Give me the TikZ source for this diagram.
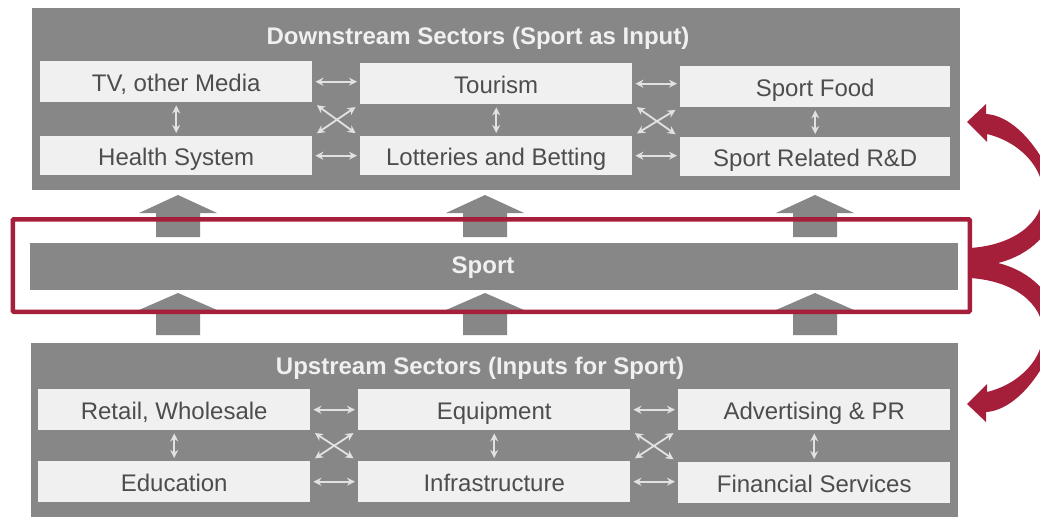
\documentclass[tikz,border=0pt]{standalone}
\usepackage{fontspec}
\setmainfont{Liberation Sans}
\usetikzlibrary{arrows.meta}
\definecolor{panel}{HTML}{878787}
\definecolor{boxc}{HTML}{F0F0F0}
\definecolor{txt}{HTML}{4D4D4D}
\definecolor{crim}{HTML}{A51E3A}
\definecolor{darkred}{HTML}{7A1A2D}
\definecolor{sm}{HTML}{E2E2E2}
\definecolor{ttl}{HTML}{F0F0F0}
\begin{document}
\begin{tikzpicture}[x=1pt,y=-1pt,
  panelbox/.style={fill=panel, inner sep=0pt, anchor=north west},
  sector/.style={fill=boxc, text=txt, font=\fontsize{24}{28}\selectfont, inner sep=0pt, anchor=north west, minimum width=272, minimum height=41, text height=20pt, text depth=0pt},
  ttlstyle/.style={text=ttl, font=\bfseries\fontsize{24}{28}\selectfont, inner sep=0pt, anchor=base},
  dbl/.style={draw=sm, line width=1.8pt, shorten <=3pt, shorten >=3pt, {Stealth[length=8pt,width=8pt]}-{Stealth[length=8pt,width=8pt]}},
  blockarrow/.style={fill=panel}
]
\useasboundingbox (0,0) rectangle (1040,516);
\fill[white] (0,0) rectangle (1040,516);

% downstream panel
\node[panelbox, minimum width=928, minimum height=182] (down) at (32,8) {};
\node[ttlstyle] (downt) at (478,44.5) {Downstream Sectors (Sport as Input)};
\node[sector] (tv) at (40,61) {TV, other Media};
\node[sector] (tour) at (360,63) {Tourism};
\node[sector, minimum width=270] (food) at (680,66) {Sport Food};
\node[sector, minimum height=39] (health) at (40,136) {Health System};
\node[sector, minimum height=39] (lot) at (360,136) {Lotteries and Betting};
\node[sector, minimum width=270, minimum height=39] (rd) at (680,137) {Sport Related R\&D};

% upstream panel
\node[panelbox, minimum width=927, minimum height=180] (up) at (31,343) {};
\node[ttlstyle] (upt) at (480,374.5) {Upstream Sectors (Inputs for Sport)};
\node[sector] (retail) at (38,389) {Retail, Wholesale};
\node[sector] (equip) at (358,389) {Equipment};
\node[sector] (adv) at (678,389) {Advertising \& PR};
\node[sector] (edu) at (38,461) {Education};
\node[sector] (infra) at (358,461) {Infrastructure};
\node[sector] (fin) at (678,462) {Financial Services};

% small arrows, downstream
\draw[dbl] (tv.east) -- (tv.east -| tour.west);
\draw[dbl] (health.east) -- (health.east -| lot.west);
\draw[dbl] (tour.east) -- (tour.east -| food.west);
\draw[dbl] (lot.east) -- (lot.east -| rd.west);
\draw[dbl] (tv.south) -- (health.north);
\draw[dbl] (tour.south) -- (lot.north);
\draw[dbl] (food.south) -- (rd.north);
\draw[dbl] ([shift={(2,1)}]tv.south east) -- ([shift={(-2,-1)}]lot.north west);
\draw[dbl] ([shift={(2,-1)}]health.north east) -- ([shift={(-2,1)}]tour.south west);
\draw[dbl] ([shift={(2,1)}]tour.south east) -- ([shift={(-2,-1)}]rd.north west);
\draw[dbl] ([shift={(2,-1)}]lot.north east) -- ([shift={(-2,1)}]food.south west);

% small arrows, upstream
\draw[dbl] (retail.east) -- (retail.east -| equip.west);
\draw[dbl] (edu.east) -- (edu.east -| infra.west);
\draw[dbl] (equip.east) -- (equip.east -| adv.west);
\draw[dbl] (infra.east) -- (infra.east -| fin.west);
\draw[dbl] (retail.south) -- (edu.north);
\draw[dbl] (equip.south) -- (infra.north);
\draw[dbl] (adv.south) -- (fin.north);
\draw[dbl] ([shift={(2,1)}]retail.south east) -- ([shift={(-2,-1)}]infra.north west);
\draw[dbl] ([shift={(2,-1)}]edu.north east) -- ([shift={(-2,1)}]equip.south west);
\draw[dbl] ([shift={(2,1)}]equip.south east) -- ([shift={(-2,-1)}]fin.north west);
\draw[dbl] ([shift={(2,-1)}]infra.north east) -- ([shift={(-2,1)}]adv.south west);

% sport bar
\node[panelbox, minimum width=928, minimum height=47] (sport) at (30,243) {};
\node[ttlstyle] (sportt) at (483,273) {Sport};

% block arrows
\foreach \x in {178,485,815} {
  \fill[blockarrow] (\x,195) -- ++(39,18) -- ++(-17,0) -- ++(0,24) -- ++(-44,0) -- ++(0,-24) -- ++(-17,0) -- cycle;
  \fill[blockarrow] (\x,293) -- ++(39,17) -- ++(-17,0) -- ++(0,25) -- ++(-44,0) -- ++(0,-25) -- ++(-17,0) -- cycle;
}

% red frame
\node[draw=crim, line width=4.5pt, inner sep=0pt, anchor=north west, minimum width=957, minimum height=92.5, rounded corners=1pt] (frame) at (10.5,217) {};

% curved red arrows
\begin{scope}
\clip (0,0) rectangle (1040,516);
\shade[top color=crim, middle color=darkred, bottom color=crim]
 (970,248) .. controls (1015,245) and (1042,222) .. (1043,195)
 .. controls (1044,168) and (1020,142) .. (987,134)
 -- (987,142) -- (967,122) -- (986,104) -- (986,114)
 .. controls (1020,116) and (1052,165) .. (1058,200)
 .. controls (1055,232) and (1030,255) .. (998,263)
 .. controls (1030,271) and (1055,294) .. (1058,326)
 .. controls (1052,361) and (1020,410) .. (986,412)
 -- (986,422) -- (967,404) -- (987,384) -- (987,392)
 .. controls (1020,384) and (1044,358) .. (1043,331)
 .. controls (1042,304) and (1015,281) .. (970,278) -- cycle;
\end{scope}
\end{tikzpicture}
\end{document}
